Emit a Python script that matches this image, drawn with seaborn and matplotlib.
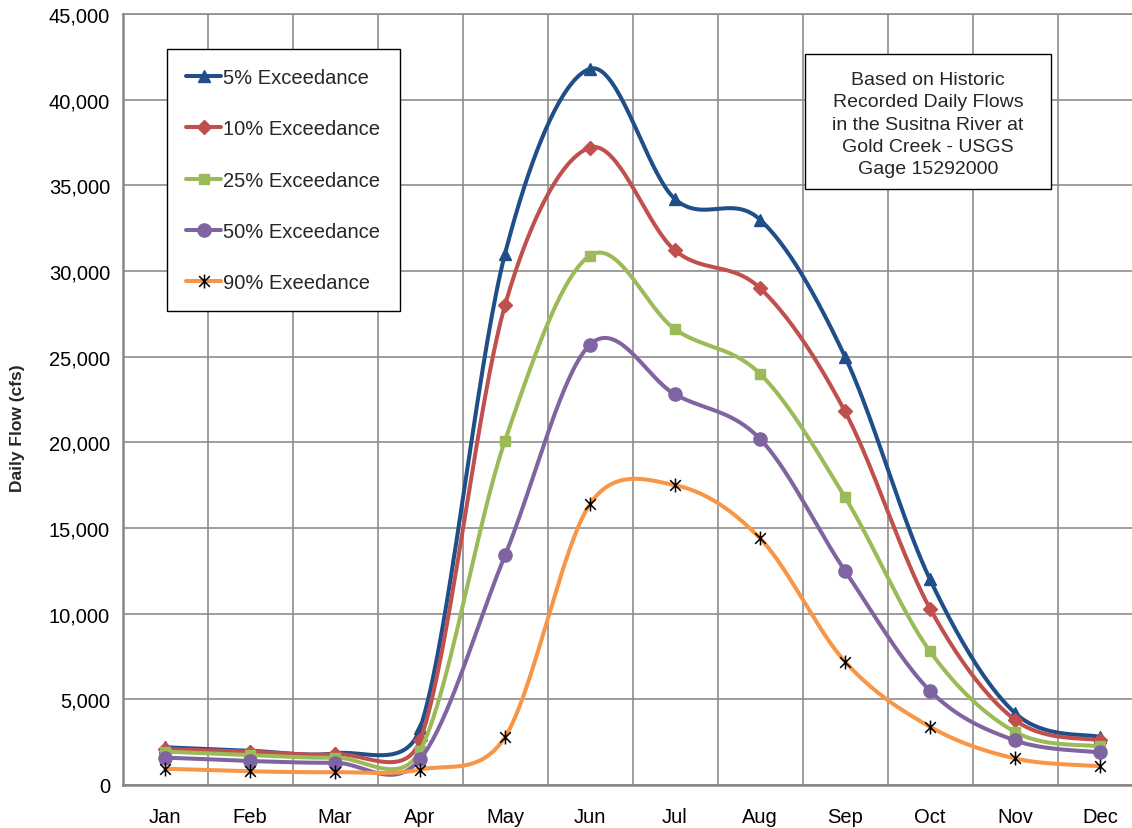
import numpy as np
import pandas as pd
import matplotlib
matplotlib.use("Agg")
import matplotlib.pyplot as plt
import seaborn as sns
from matplotlib.lines import Line2D
from matplotlib.path import Path
from matplotlib.patches import Rectangle
from matplotlib.ticker import FuncFormatter, MultipleLocator

months = ["Jan", "Feb", "Mar", "Apr", "May", "Jun", "Jul", "Aug", "Sep", "Oct", "Nov", "Dec"]
exc5 = [2200, 2000, 1850, 3300, 31000, 41800, 34200, 33000, 25000, 12000, 4200, 2800]
exc10 = [2100, 1950, 1800, 2600, 28000, 37200, 31200, 29000, 21800, 10300, 3800, 2600]
exc25 = [1950, 1750, 1600, 2000, 20100, 30900, 26600, 24000, 16800, 7800, 3100, 2250]
exc50 = [1600, 1400, 1300, 1500, 13400, 25700, 22800, 20200, 12500, 5500, 2600, 1900]
exc90 = [950, 800, 750, 900, 2800, 16400, 17500, 14400, 7200, 3400, 1550, 1100]
series_names = ["5% Exceedance", "10% Exceedance", "25% Exceedance", "50% Exceedance", "90% Exeedance"]
note_text = "Based on Historic\nRecorded Daily Flows\nin the Susitna River at\nGold Creek - USGS\nGage 15292000"

sns.set_style("white")
plt.rcParams["font.family"] = ["Liberation Sans", "DejaVu Sans"]

W, H, DPI = 1132, 829, 100
fig = plt.figure(figsize=(W / DPI, H / DPI), dpi=DPI)
left_px, right_px, top_px, bot_px = 122.5, 1142.5, 15, 786
ax = fig.add_axes([left_px / W, 1 - bot_px / H, (right_px - left_px) / W, (bot_px - top_px) / H])
ax.set_xlim(-0.5, 11.5)
ax.set_ylim(0, 45000)

star = Path([(-1, -1), (1, 1), (-1, 1), (1, -1), (0, -1.3), (0, 1.3)],
            [Path.MOVETO, Path.LINETO, Path.MOVETO, Path.LINETO, Path.MOVETO, Path.LINETO])

styles = [
    dict(color="#1F4E89", marker="^", ms=9, mec="#1F4E89", mfc="#1F4E89", mew=1),
    dict(color="#C0504D", marker="D", ms=7.5, mec="#C0504D", mfc="#C0504D", mew=1),
    dict(color="#9BBB59", marker="s", ms=7.5, mec="#9BBB59", mfc="#9BBB59", mew=1),
    dict(color="#8064A2", marker="o", ms=9.5, mec="#8064A2", mfc="#8064A2", mew=1),
    dict(color="#F79646", marker=star, ms=10, mec="black", mfc="none", mew=1.1),
]
data = [exc5, exc10, exc25, exc50, exc90]
LW = 2.9


def excel_smooth(xd, yd, trans, n=40):
    pts = trans.transform(np.column_stack([xd, yd]).astype(float))
    N = len(pts)
    out = []
    t = np.linspace(0, 1, n)[:, None]
    for i in range(N - 1):
        p0 = pts[i - 1] if i > 0 else pts[i]
        p1, p2 = pts[i], pts[i + 1]
        p3 = pts[i + 2] if i + 2 < N else pts[i + 1]
        d12 = np.hypot(*(p2 - p1))
        v1 = (p2 - p0) / 6.0
        v2 = (p3 - p1) / 6.0
        l1, l2 = np.hypot(*v1), np.hypot(*v2)
        if l1 > d12 / 2:
            v1 = v1 * (d12 / 2 / l1)
        if l2 > d12 / 2:
            v2 = v2 * (d12 / 2 / l2)
        c1, c2 = p1 + v1, p2 - v2
        seg = (1 - t) ** 3 * p1 + 3 * (1 - t) ** 2 * t * c1 + 3 * (1 - t) * t ** 2 * c2 + t ** 3 * p2
        out.append(seg if i == 0 else seg[1:])
    return trans.inverted().transform(np.vstack(out))


xpos = np.arange(len(months))
for k, (vals, st, name) in enumerate(zip(data, styles, series_names)):
    sm = excel_smooth(xpos, vals, ax.transData)
    df = pd.DataFrame({"x": sm[:, 0], "y": sm[:, 1]})
    sns.lineplot(data=df, x="x", y="y", sort=False, estimator=None, color=st["color"],
                 lw=LW, ax=ax, zorder=3 + k * 0.1)
    ax.plot(xpos, vals, ls="none", marker=st["marker"], ms=st["ms"], mec=st["mec"],
            mfc=st["mfc"], mew=st["mew"], zorder=3.05 + k * 0.1, clip_on=False)

# axes styling
ax.set_xticks(xpos)
ax.set_xticklabels(months)
ax.set_xticks(np.arange(-0.5, 12, 1), minor=True)
ax.yaxis.set_major_locator(MultipleLocator(5000))
ax.yaxis.set_major_formatter(FuncFormatter(lambda v, p: f"{int(v):,}"))
grid_c = "#8c8c8c"
ax.xaxis.grid(True, which="minor", color=grid_c, lw=1.2)
ax.xaxis.grid(False, which="major")
ax.yaxis.grid(True, which="major", color=grid_c, lw=1.2)
ax.set_axisbelow(True)
for s in ["left", "bottom"]:
    ax.spines[s].set_color("#868686")
    ax.spines[s].set_linewidth(1.8)
ax.spines["top"].set_color(grid_c)
ax.spines["top"].set_linewidth(1.2)
ax.spines["right"].set_visible(False)
ax.tick_params(axis="x", which="major", length=0, pad=16, labelsize=14.5, colors="black")
ax.tick_params(axis="x", which="minor", length=5, width=1.2, color="#868686", direction="out")
ax.tick_params(axis="y", which="major", length=5, width=1.2, color="#868686", direction="out",
               pad=4, labelsize=14.5, labelcolor="black")
ax.set_xlabel("")
ax.set_ylabel("")
fig.text(18 / W, 1 - 428 / H, "Daily Flow (cfs)", rotation=90, ha="center", va="center",
         fontsize=12.5, fontweight="bold")

# legend
handles = [Line2D([], [], color=st["color"], lw=LW, marker=st["marker"], ms=st["ms"],
                  mec=st["mec"], mfc=st["mfc"], mew=st["mew"]) for st in styles]
leg = fig.legend(handles, series_names, loc="upper left",
                 bbox_to_anchor=(167 / W, 1 - 50 / H), frameon=True, fancybox=False,
                 fontsize=14.5, handlelength=1.75, handletextpad=0.1, labelspacing=1.6,
                 borderpad=0.95, borderaxespad=0)
leg.get_frame().set_edgecolor("black")
leg.get_frame().set_linewidth(1.0)
leg.get_frame().set_facecolor("white")
leg.get_frame().set_alpha(1)

# note box
fig.patches.append(Rectangle((805 / W, 1 - 190 / H), (1051 - 805) / W, (190 - 55) / H,
                             transform=fig.transFigure, facecolor="white", edgecolor="black",
                             lw=1.0, zorder=5))
fig.text(928 / W, 1 - 125 / H, note_text, ha="center", va="center", fontsize=14,
         linespacing=1.4, zorder=6)

fig.savefig("out.png", dpi=DPI)
